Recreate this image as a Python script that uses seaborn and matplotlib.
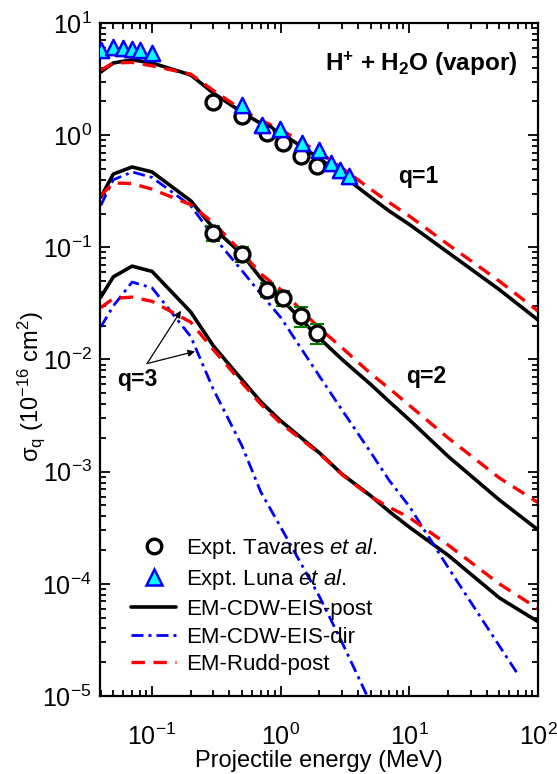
import matplotlib
matplotlib.use("Agg")
import matplotlib.pyplot as plt
import seaborn as sns
from matplotlib.lines import Line2D

# projectile energies (MeV) at which the model curves are tabulated
energy = [0.04, 0.05, 0.07, 0.1, 0.2, 0.3, 0.5, 0.7, 1, 2, 3, 5, 7, 10, 20, 50, 100]

# EM-CDW-EIS-post (black solid)
post_q1 = [3.66, 4.4, 4.7, 4.4, 3.44, 2.37, 1.6, 1.27, 1.05, 0.62, 0.44, 0.28, 0.21, 0.16, 0.09, 0.042, 0.0225]
post_q2 = [0.28, 0.45, 0.52, 0.47, 0.26, 0.148, 0.087, 0.053, 0.035, 0.0155, 0.0100, 0.0060, 0.0042, 0.0029,
           0.00137, 0.00056, 0.000303]
post_q3 = [0.036, 0.0545, 0.068, 0.061, 0.0265, 0.0132, 0.0066, 0.0042, 0.00284, 0.00147, 0.00095, 0.00061,
           0.00044, 0.00032, 0.00018, 0.000075, 0.000046]

# EM-Rudd-post (red dashed)
rudd_q1 = [3.8, 4.4, 4.45, 4.15, 3.5, 2.5, 1.68, 1.36, 1.12, 0.7, 0.51, 0.33, 0.25, 0.19, 0.106, 0.05, 0.027]
rudd_q2 = [0.29, 0.375, 0.37, 0.33, 0.24, 0.165, 0.09, 0.058, 0.042, 0.019, 0.0127, 0.0075, 0.0055, 0.0039,
           0.002, 0.00088, 0.00053]
rudd_q3 = [0.029, 0.035, 0.036, 0.033, 0.0215, 0.0122, 0.0062, 0.004, 0.0027, 0.00145, 0.00094, 0.0006,
           0.00048, 0.00039, 0.000222, 0.0001, 0.00006]

# EM-CDW-EIS-dir (blue dash-dot), shorter energy ranges
dir_e2 = [0.04, 0.05, 0.07, 0.1, 0.2, 0.3, 0.5, 0.7, 1, 2, 3, 5, 7, 10, 20, 50, 70]
dir_q2 = [0.237, 0.40, 0.47, 0.42, 0.235, 0.125, 0.062, 0.0385, 0.0237, 0.0071, 0.00354, 0.00149, 0.00083,
          0.00049, 0.00014, 0.000028, 0.0000155]
dir_e3 = [0.04, 0.05, 0.07, 0.1, 0.2, 0.3, 0.5, 0.7, 1, 2, 3, 5]
dir_q3 = [0.0195, 0.03, 0.049, 0.0435, 0.016, 0.0054, 0.0017, 0.00066, 0.00032, 0.000077, 0.00003, 0.0000086]

# experiments
tav_e = [0.3, 0.5, 0.78, 1.05, 1.45, 1.9]
tav_q1 = [1.98, 1.48, 1.05, 0.85, 0.65, 0.53]
tav_q2 = [0.134, 0.087, 0.042, 0.0355, 0.0245, 0.0173]
tav_rel_err2 = [0.15, 0.15, 0.15, 0.15, 0.2, 0.2]

luna_e = [0.04, 0.05, 0.06, 0.07, 0.08, 0.1, 0.5, 0.72, 0.98, 1.47, 1.97, 2.45, 2.9, 3.4]
luna_q1 = [5.7, 6.1, 6.0, 5.9, 5.75, 5.4, 1.86, 1.23, 1.14, 0.85, 0.74, 0.565, 0.49, 0.43]

# styling
sns.set_style("ticks")
plt.rcParams['font.family'] = ['Liberation Sans', 'DejaVu Sans']
plt.rcParams.update({
    'mathtext.fontset': 'custom',
    'mathtext.rm': 'Liberation Sans',
    'mathtext.it': 'Liberation Sans:italic',
    'mathtext.bf': 'Liberation Sans:bold',
    'text.color': 'black',
    'axes.labelcolor': 'black',
    'axes.edgecolor': 'black',
    'xtick.color': 'black',
    'ytick.color': 'black',
})

RED_DASH = (0, (4, 2.6))
BLUE_DASHDOT = (0, (4.3, 1.8, 1.1, 1.8))

fig = plt.figure(figsize=(5.57, 7.74), dpi=100)
ax = fig.add_axes([0.1795, 0.1008, 0.7864, 0.8695])
ax.set_xscale('log')
ax.set_yscale('log')


def curve(x, y, color, ls, lw):
    sns.lineplot(x=x, y=y, color=color, linestyle=ls, lw=lw, ax=ax, zorder=2)


for q in (post_q1, post_q2, post_q3):
    curve(energy, q, 'black', '-', 2.6)
curve(dir_e2, dir_q2, '#0000ff', BLUE_DASHDOT, 2.0)
curve(dir_e3, dir_q3, '#0000ff', BLUE_DASHDOT, 2.0)
for q in (rudd_q1, rudd_q2, rudd_q3):
    curve(energy, q, '#ff0000', RED_DASH, 2.4)

# Tavares error bars (green caps) for q=2
err = [v * r for v, r in zip(tav_q2, tav_rel_err2)]
ax.errorbar(tav_e, tav_q2, yerr=err, fmt='none', ecolor='#008000', elinewidth=1.2, capsize=5, capthick=1.5,
            zorder=3)

for q in (tav_q1, tav_q2):
    sns.scatterplot(x=tav_e, y=q, marker='o', s=115, color='white', edgecolor='black', linewidth=2.4, ax=ax,
                    zorder=5)
sns.scatterplot(x=luna_e, y=luna_q1, marker='^', s=120, color='#00ffff', edgecolor='#0000ff', linewidth=1.8,
                ax=ax, zorder=6)

ax.set_xlim(0.0394, 100)
ax.set_ylim(1e-5, 10)

ax.tick_params(which='both', direction='in', top=True, right=True, width=1.3, labelsize=18)
ax.tick_params(which='major', length=7)
ax.tick_params(which='minor', length=4)
ax.tick_params(axis='x', pad=20)
ax.tick_params(axis='y', pad=6)
for s in ax.spines.values():
    s.set_linewidth(1.6)

ax.set_xlabel('Projectile energy (MeV)', fontsize=17)
ax.xaxis.set_label_coords(0.5, -0.08)
ax.set_ylabel(r'σ$_{\mathregular{q}}$ (10$^{\mathregular{-16}}$ cm$^{\mathregular{2}}$)', fontsize=17)
ax.yaxis.set_label_coords(-0.12, 0.46)

ax.text(0.733, 0.94, r'H$^{\mathbf{+}}$ + H$_{\mathbf{2}}$O (vapor)', transform=ax.transAxes, ha='center',
        va='center', fontsize=17.5, fontweight='bold')
ax.text(11.7, 0.424, 'q=1', ha='center', va='center', fontsize=16.5, fontweight='bold')
ax.text(13.5, 0.007, 'q=2', ha='center', va='center', fontsize=16.5, fontweight='bold')
ax.text(0.0765, 0.0066, 'q=3', ha='center', va='center', fontsize=16.5, fontweight='bold')
arrow = dict(arrowstyle='-|>', color='black', lw=0.9, mutation_scale=10, shrinkA=0, shrinkB=0)
ax.annotate('', xy=(0.168, 0.0272), xytext=(0.0915, 0.0092), arrowprops=arrow)
ax.annotate('', xy=(0.216, 0.0118), xytext=(0.0915, 0.0092), arrowprops=arrow)

handles = [
    Line2D([], [], ls='none', marker='o', ms=10.5, mfc='white', mec='black', mew=2.4),
    Line2D([], [], ls='none', marker='^', ms=11, mfc='#00ffff', mec='#0000ff', mew=1.8),
    Line2D([], [], color='black', lw=2.6),
    Line2D([], [], color='#0000ff', lw=2.0, ls=BLUE_DASHDOT),
    Line2D([], [], color='#ff0000', lw=2.4, ls=RED_DASH),
]
labels = [
    r'Expt. Tavares $\mathit{et\ al.}$',
    r'Expt. Luna $\mathit{et\ al.}$',
    'EM-CDW-EIS-post',
    'EM-CDW-EIS-dir',
    'EM-Rudd-post',
]
ax.legend(handles, labels, loc='lower left', bbox_to_anchor=(0.04, 0.011), frameon=False, fontsize=16,
          handlelength=2.05, handletextpad=0.45, labelspacing=0.3, borderaxespad=0.2)

fig.savefig('out.png', dpi=100)
